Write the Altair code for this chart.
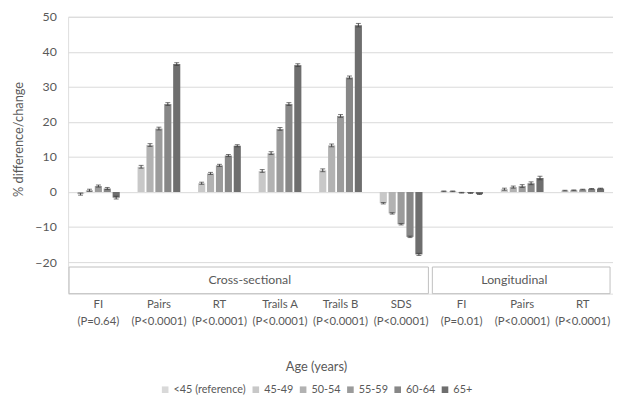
import altair as alt
import pandas as pd

sections = ["Cross-sectional"] * 6 + ["Longitudinal"] * 3
tests = ["FI", "Pairs", "RT", "Trails A", "Trails B", "SDS", "FI", "Pairs", "RT"]
pvals = ["(P=0.64)", "(P<0.0001)", "(P<0.0001)", "(P<0.0001)", "(P<0.0001)",
         "(P<0.0001)", "(P=0.01)", "(P<0.0001)", "(P<0.0001)"]
ages = ["<45 (reference)", "45-49", "50-54", "55-59", "60-64", "65+"]
colors = ["#d9d9d9", "#c8c8c8", "#b2b2b2", "#9b9b9b", "#878787", "#6e6e6e"]

# values for 45-49 .. 65+ (reference group is 0)
values = [
    [-0.6, 0.5, 1.7, 1.0, -1.6],
    [7.2, 13.4, 18.1, 25.1, 36.5],
    [2.5, 5.3, 7.6, 10.4, 13.2],
    [6.0, 11.1, 18.0, 25.1, 36.2],
    [6.2, 13.3, 21.7, 32.7, 47.6],
    [-3.2, -6.1, -9.2, -12.8, -17.8],
    [0.2, 0.2, -0.2, -0.3, -0.6],
    [0.8, 1.4, 1.7, 2.5, 4.0],
    [0.4, 0.5, 0.7, 0.9, 1.0],
]
errors = [
    [0.3, 0.3, 0.3, 0.3, 0.4],
    [0.4, 0.4, 0.4, 0.4, 0.4],
    [0.3, 0.3, 0.3, 0.3, 0.3],
    [0.4, 0.4, 0.4, 0.4, 0.4],
    [0.4, 0.4, 0.4, 0.4, 0.5],
    [0.2, 0.2, 0.2, 0.2, 0.3],
    [0.1, 0.1, 0.1, 0.1, 0.1],
    [0.3, 0.3, 0.4, 0.4, 0.5],
    [0.1, 0.1, 0.1, 0.1, 0.1],
]

keys = [f"{s}|{t}|{p}" for s, t, p in zip(sections, tests, pvals)]

rows = []
for k, s, vals, errs in zip(keys, sections, values, errors):
    for a, v, e in zip(ages[1:], vals, errs):
        rows.append(dict(key=k, section=s, age=a, value=v, lo=v - e, hi=v + e))
df = pd.DataFrame(rows)

box_df = pd.DataFrame([
    dict(section="Cross-sectional", first=keys[0], last=keys[5], label_at=keys[3]),
    dict(section="Longitudinal", first=keys[6], last=keys[8], label_at=keys[7]),
])

FONT = "Lato"
TXT = "#595959"

xscale = alt.Scale(domain=keys, paddingInner=0, paddingOuter=0)
xaxis = alt.Axis(title=None, labelExpr="slice(split(datum.value,'|'),1)",
                 labelAngle=0, ticks=False, domain=False, labelPadding=5,
                 labelLineHeight=17, labelFontSize=11.5, labelColor=TXT, grid=False)
yscale = alt.Scale(domain=[-29, 50], nice=False, zero=False)
yaxis = alt.Axis(values=list(range(-20, 60, 10)), grid=True, gridColor="#d9d9d9",
                 ticks=False, domain=False, title="% difference/change",
                 labelPadding=12, titlePadding=10, labelFontSize=12.5, titleFontSize=13,
                 labelColor=TXT, titleColor=TXT, titleFontWeight="normal", titleY=124)
xoff = alt.XOffset("age:N", scale=alt.Scale(domain=ages[1:], paddingInner=0.2, paddingOuter=1))

bars = alt.Chart(df).mark_bar().encode(
    x=alt.X("key:N", scale=xscale, axis=xaxis, sort=keys),
    xOffset=xoff,
    y=alt.Y("value:Q", scale=yscale, axis=yaxis),
    color=alt.Color("age:N", scale=alt.Scale(domain=ages, range=colors), sort=ages,
                    legend=alt.Legend(title="Age (years)", orient="none", legendX=93, legendY=349,
                                      direction="horizontal", titleOrient="top", titleAnchor="middle",
                                      gridAlign="none",
                                      symbolType="square", symbolSize=45, symbolStrokeWidth=0,
                                      labelFontSize=11, titleFontSize=13, titleFontWeight="normal",
                                      labelColor=TXT, titleColor=TXT, columnPadding=4,
                                      labelOffset=3, titlePadding=11)),
)

rule = alt.Chart(df).mark_rule(color="#404040", strokeWidth=1).encode(
    x=alt.X("key:N", sort=keys), xOffset=xoff, y="lo:Q", y2="hi:Q")
cap_lo = alt.Chart(df).mark_tick(color="#404040", size=5, thickness=1).encode(
    x=alt.X("key:N", sort=keys), xOffset=xoff, y="lo:Q")
cap_hi = alt.Chart(df).mark_tick(color="#404040", size=5, thickness=1).encode(
    x=alt.X("key:N", sort=keys), xOffset=xoff, y="hi:Q")

boxes = alt.Chart(box_df).mark_rect(fill="white", stroke="#bfbfbf", strokeWidth=1,
                                    xOffset=1, x2Offset=-3).encode(
    x=alt.X("first:N", bandPosition=0),
    x2=alt.X2("last:N", bandPosition=1),
    y=alt.datum(-21.4),
    y2=alt.datum(-29),
)
txt_cs = alt.Chart(box_df).transform_filter(alt.datum.section == "Cross-sectional").mark_text(
    font=FONT, fontSize=12.5, color=TXT).encode(
    x=alt.X("label_at:N", bandPosition=0), y=alt.datum(-25.2), text="section:N")
txt_l = alt.Chart(box_df).transform_filter(alt.datum.section == "Longitudinal").mark_text(
    font=FONT, fontSize=12.5, color=TXT, dx=-8).encode(
    x=alt.X("label_at:N", bandPosition=0.5), y=alt.datum(-25.2), text="section:N")

chart = alt.layer(bars, rule, cap_lo, cap_hi, boxes, txt_cs, txt_l).properties(
    width=553, height=281, padding={"left": 4, "top": 0, "right": 0, "bottom": 0}
).configure_view(stroke=None).configure(font=FONT)

chart.save("out.html", embed_options={"renderer": "svg", "actions": False})
